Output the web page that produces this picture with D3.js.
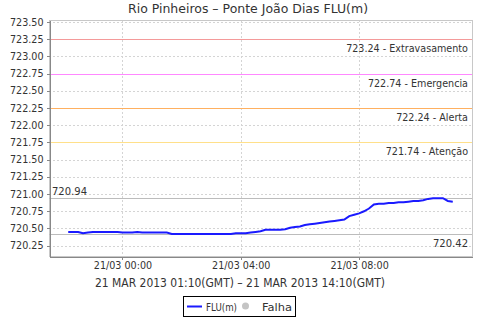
<!DOCTYPE html>
<html>
  <head>
    <meta charset="utf-8">
    <title> Rio Pinheiros </title>
    <script src="https://d3js.org/d3.v7.min.js"></script>
    <style>
      body { margin: 0; background: white; }
      text { font-family: "DejaVu Sans", sans-serif; fill: #333; }
      .tick text { font-size: 10px; fill: #333; }
      .axis path, .axis line { fill: none; stroke: #888; shape-rendering: crispEdges; }
      .grid line { stroke: #d4d4d4; stroke-dasharray: 2,2; shape-rendering: crispEdges; }
    </style>
  </head>
  <body>
    <svg id="main" width="480" height="320"></svg>
    <script>
      var title = 'Rio Pinheiros \u2013 Ponte Jo\u00e3o Dias FLU(m)';
      var subtitle = '21 MAR 2013 01:10(GMT) \u2013 21 MAR 2013 14:10(GMT)';

      // readings every 10 minutes starting 20/03 22:10 (local)
      var firstReading = Date.UTC(2013, 2, 20, 22, 10);
      var stepMinutes = 10;
      var levels = [
        720.45, 720.45, 720.45, 720.43, 720.44, 720.45, 720.45, 720.45, 720.45, 720.45,
        720.45, 720.44, 720.44, 720.44, 720.45, 720.44, 720.44, 720.44, 720.44, 720.44,
        720.44, 720.42, 720.42, 720.42, 720.42, 720.42, 720.42, 720.42, 720.42, 720.42,
        720.42, 720.42, 720.42, 720.42, 720.43, 720.43, 720.43, 720.44, 720.45, 720.46,
        720.48, 720.48, 720.48, 720.48, 720.49, 720.51, 720.52, 720.53, 720.55, 720.56,
        720.57, 720.58, 720.59, 720.60, 720.61, 720.62, 720.63, 720.68, 720.70, 720.72,
        720.75, 720.79, 720.85, 720.86, 720.86, 720.87, 720.87, 720.88, 720.88, 720.89,
        720.90, 720.90, 720.91, 720.93, 720.94, 720.94, 720.94, 720.90, 720.89
      ];

      var thresholdValues = [723.24, 722.74, 722.24, 721.74];
      var thresholdNames = ['Extravasamento', 'Emergencia', 'Alerta', 'Aten\u00e7\u00e3o'];
      var thresholdColors = ['#f49a9a', '#ff88ff', '#ffb060', '#ffe08a'];

      var yTicks = [720.25, 720.50, 720.75, 721.00, 721.25, 721.50, 721.75,
                    722.00, 722.25, 722.50, 722.75, 723.00, 723.25, 723.50];
      var xTicks = [Date.UTC(2013, 2, 21, 0, 0), Date.UTC(2013, 2, 21, 4, 0), Date.UTC(2013, 2, 21, 8, 0)];

      var legendNames = ['FLU(m)', 'Falha'];

      var data = levels.map(function(v, i) {
        return { t: new Date(firstReading + i * stepMinutes * 60000), v: v };
      });
      var minV = d3.min(levels), maxV = d3.max(levels);

      var plotL = 49, plotR = 472, plotT = 20, plotB = 256;
      var svg = d3.select('#main');

      var t0 = data[0].t, t1 = data[data.length - 1].t;
      var pad = (t1 - t0) * 0.05;
      var x = d3.scaleUtc()
        .domain([new Date(+t0 - pad), new Date(+t1 + pad)])
        .range([plotL, plotR]);
      var y = d3.scaleLinear()
        .domain([720.10, 723.53])
        .range([plotB, plotT]);

      // a marker line this close to a gridline is drawn on the gridline's row
      function markerRow(v) {
        var row = Math.round(y(v));
        var near = yTicks.map(function(t) { return Math.round(y(t)); })
          .filter(function(r) { return Math.abs(r - row) <= 1; });
        return near.length ? near[0] : row;
      }

      // grid
      svg.append('g').attr('class', 'grid')
        .selectAll('line').data(yTicks).enter().append('line')
        .attr('x1', plotL).attr('x2', plotR)
        .attr('y1', function(d) { return Math.round(y(d)) + 0.5; })
        .attr('y2', function(d) { return Math.round(y(d)) + 0.5; });
      svg.append('g').attr('class', 'grid')
        .selectAll('line').data(xTicks).enter().append('line')
        .attr('y1', plotT).attr('y2', plotB)
        .attr('x1', function(d) { return Math.round(x(d)) + 0.5; })
        .attr('x2', function(d) { return Math.round(x(d)) + 0.5; });

      // plot frame (top/right)
      svg.append('rect')
        .attr('x', plotL + 0.5).attr('y', plotT + 0.5)
        .attr('width', plotR - plotL).attr('height', plotB - plotT)
        .attr('fill', 'none').attr('stroke', '#c8c8c8')
        .attr('shape-rendering', 'crispEdges');

      // max / min markers
      [maxV, minV].forEach(function(v, i) {
        var yy = Math.round(y(v)) + 0.5;
        svg.append('line')
          .attr('x1', plotL).attr('x2', plotR).attr('y1', yy).attr('y2', yy)
          .attr('stroke', '#bcbcbc').attr('stroke-width', 1.2);
        svg.append('text')
          .attr('x', i === 0 ? 52 : 468)
          .attr('y', i === 0 ? yy - 4 : yy + 12)
          .attr('text-anchor', i === 0 ? 'start' : 'end')
          .style('font-size', '10px')
          .text(v.toFixed(2));
      });

      // threshold lines
      var th = svg.append('g').attr('class', 'thresholds');
      th.selectAll('rect').data(thresholdValues).enter().append('rect')
        .attr('x', plotL + 1)
        .attr('y', function(d) { return markerRow(d); })
        .attr('width', plotR - plotL - 1)
        .attr('height', 1)
        .style('fill', function(d, i) { return thresholdColors[i]; });
      th.selectAll('text').data(thresholdValues).enter().append('text')
        .attr('x', 468)
        .attr('y', function(d) { return markerRow(d) + 13; })
        .attr('text-anchor', 'end')
        .style('font-size', '9.6px')
        .text(function(d, i) { return d.toFixed(2) + ' - ' + thresholdNames[i]; });

      // axes
      svg.append('g').attr('class', 'axis')
        .attr('transform', 'translate(' + (plotL + 0.5) + ',0)')
        .call(d3.axisLeft(y).tickValues(yTicks).tickSize(3).tickSizeOuter(0)
          .tickFormat(d3.format('.2f')));
      svg.append('g').attr('class', 'axis')
        .attr('transform', 'translate(0,' + (plotB + 0.5) + ')')
        .call(d3.axisBottom(x).tickValues(xTicks.map(function(d) { return new Date(d); }))
          .tickSize(3).tickSizeOuter(0)
          .tickFormat(d3.utcFormat('%d/%m %H:%M')));
      svg.selectAll('.axis .tick text').style('font-size', '9.6px');

      // series
      var line = d3.line()
        .x(function(d) { return x(d.t); })
        .y(function(d) { return y(d.v); });
      svg.append('path').datum(data)
        .attr('d', line)
        .attr('fill', 'none')
        .attr('stroke', '#1a1aff')
        .attr('stroke-width', 2);

      // titles
      svg.append('text')
        .attr('x', 248).attr('y', 13)
        .attr('text-anchor', 'middle')
        .attr('textLength', 240).attr('lengthAdjust', 'spacingAndGlyphs')
        .style('font-size', '12px')
        .text(title);
      svg.append('text')
        .attr('x', 240).attr('y', 287)
        .attr('text-anchor', 'middle')
        .attr('textLength', 290).attr('lengthAdjust', 'spacingAndGlyphs')
        .style('font-size', '12px')
        .text(subtitle);

      // legend
      var lg = svg.append('g');
      lg.append('rect')
        .attr('x', 183.5).attr('y', 296.5).attr('width', 112).attr('height', 20)
        .attr('fill', 'white').attr('stroke', 'black');
      lg.append('line')
        .attr('x1', 187).attr('x2', 202).attr('y1', 306.5).attr('y2', 306.5)
        .attr('stroke', '#1a1aff').attr('stroke-width', 2);
      lg.append('text').attr('x', 206).attr('y', 310.5)
        .attr('textLength', 31).attr('lengthAdjust', 'spacingAndGlyphs')
        .style('font-size', '11px').text(legendNames[0]);
      lg.append('circle').attr('cx', 245.5).attr('cy', 306).attr('r', 3.5)
        .attr('fill', '#c4c4c4');
      lg.append('text').attr('x', 262).attr('y', 310.5)
        .attr('textLength', 30).attr('lengthAdjust', 'spacingAndGlyphs')
        .style('font-size', '11px').text(legendNames[1]);
    </script>
  </body>
</html>
